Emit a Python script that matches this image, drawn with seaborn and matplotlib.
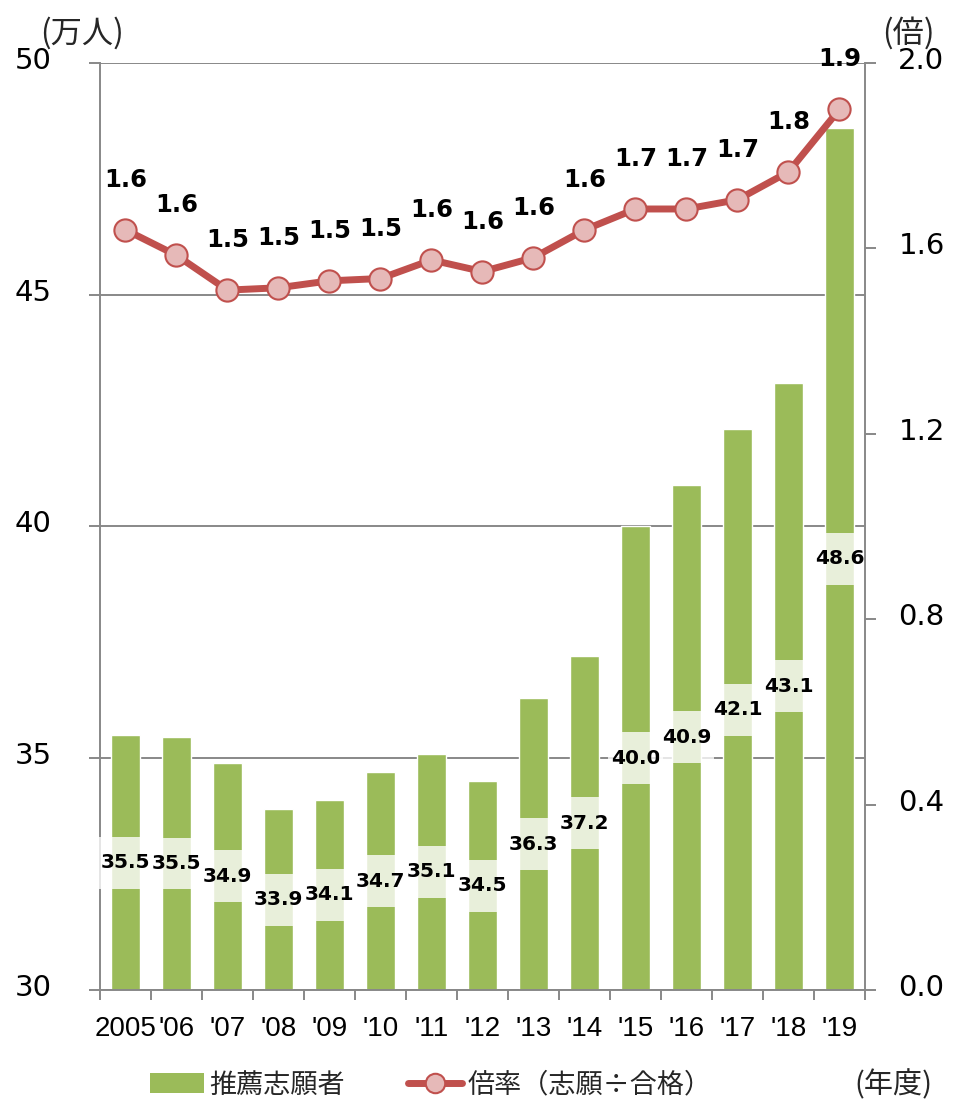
import numpy as np
import matplotlib
matplotlib.use("Agg")
import matplotlib.pyplot as plt
import seaborn as sns
from matplotlib.patches import Patch
from matplotlib.lines import Line2D
from matplotlib.transforms import ScaledTranslation

# ---- data ----
years = ["2005", "'06", "'07", "'08", "'09", "'10", "'11", "'12", "'13", "'14",
         "'15", "'16", "'17", "'18", "'19"]
applicants = [35.5, 35.46, 34.9, 33.9, 34.1, 34.7, 35.1, 34.5, 36.3, 37.2,
              40.0, 40.9, 42.1, 43.1, 48.6]
ratio = [1.64, 1.585, 1.51, 1.515, 1.53, 1.535, 1.575, 1.55, 1.58, 1.64,
         1.685, 1.685, 1.705, 1.765, 1.90]
left_ticks = [30, 35, 40, 45, 50]
right_ticks = [0.0, 0.4, 0.8, 1.2, 1.6, 2.0]
bar_label = "推薦志願者"
line_label = "倍率（志願÷合格）"

BAR = "#9BBB59"
RED = "#C0504D"
PINK = "#E6B9B8"
GRAY = "#888888"

sns.set_theme(style="white")
plt.rcParams["font.family"] = ["DejaVu Sans", "Noto Sans CJK JP"]
CJK = ["Noto Sans CJK JP", "DejaVu Sans"]

fig = plt.figure(figsize=(9.56, 11.01), dpi=100)
ax = fig.add_axes([0.1046, 0.1008, 0.9048 - 0.1046, 0.9428 - 0.1008])

sns.barplot(x=years, y=applicants, ax=ax, color=BAR, saturation=1,
            width=0.57, zorder=2)
ax.set_ylim(30, 50)
ax.set_xlim(-0.5, len(years) - 0.5)
ax.set_xlabel("")
ax.set_ylabel("")
ax.yaxis.grid(True, color=GRAY, lw=1.4)
ax.set_axisbelow(True)

# value labels with translucent boxes at bar centres
for i, v in enumerate(applicants):
    mid = (30 + v) / 2
    ax.bar(i, 1.12, bottom=mid - 0.56, width=1.07, color="white", alpha=0.78,
           zorder=3 + 2 * i, clip_on=False, linewidth=0)
    ax.text(i, mid, f"{v:.1f}", ha="center", va="center", fontsize=14.5,
            fontweight="bold", color="black", zorder=4 + 2 * i)

# axes styling
for s in ["top", "right"]:
    ax.spines[s].set_visible(False)
for s in ["left", "bottom"]:
    ax.spines[s].set_color(GRAY)
    ax.spines[s].set_linewidth(1.4)

ax.set_yticks(left_ticks)
ax.set_yticklabels([str(t) for t in left_ticks])
ax.tick_params(axis="y", which="major", left=True, length=8, width=1.4,
               color=GRAY, labelsize=21, pad=27, labelcolor="black")
ax.set_xticks(np.arange(-0.5, len(years), 1.0))
ax.set_xticklabels([])
ax.set_xticks(np.arange(len(years)), minor=True)
ax.set_xticklabels(years, minor=True, fontfamily="Liberation Sans")
ax.tick_params(axis="x", which="major", bottom=True, length=7, width=1.4,
               color=GRAY)
ax.tick_params(axis="x", which="minor", bottom=True, length=0, labelsize=20,
               pad=19, labelcolor="black")

# line on secondary axis
ax2 = ax.twinx()
sns.lineplot(x=np.arange(len(ratio)), y=ratio, ax=ax2, color=RED, lw=5,
             marker="o", markersize=16, markerfacecolor=PINK,
             markeredgecolor=RED, markeredgewidth=1.5, zorder=5)
ax2.set_ylim(0, 2.0)
ax2.set_ylabel("")
ax2.set_yticks(right_ticks)
ax2.set_yticklabels([f"{t:.1f}" for t in right_ticks])
ax2.grid(False)
for s in ["top", "left", "bottom"]:
    ax2.spines[s].set_visible(False)
ax2.spines["right"].set_color(GRAY)
ax2.spines["right"].set_linewidth(1.4)
ax2.tick_params(axis="y", right=True, length=8, width=1.4, color=GRAY,
                labelsize=21, pad=16, labelcolor="black")

for i, r in enumerate(ratio):
    ax2.annotate(f"{r:.1f}", (i, r), xytext=(0, 36), textcoords="offset points",
                 ha="center", va="center", fontsize=17.5, fontweight="bold",
                 color="black", annotation_clip=False)

# lift y tick labels slightly
shift = ScaledTranslation(0, 0.05, fig.dpi_scale_trans)
for lab in ax.get_yticklabels() + ax2.get_yticklabels():
    lab.set_transform(lab.get_transform() + shift)

# unit labels
fig.text(0.086, 0.970, "(万人)", ha="center", va="center", fontsize=22.5,
         family=CJK)
fig.text(0.950, 0.970, "(倍)", ha="center", va="center", fontsize=22.5,
         family=CJK)
fig.text(0.935, 0.0145, "(年度)", ha="center", va="center", fontsize=21,
         family=CJK)

handles = [Patch(facecolor=BAR, edgecolor="none"),
           Line2D([], [], color=RED, lw=5, marker="o", markersize=14,
                  markerfacecolor=PINK, markeredgecolor=RED,
                  markeredgewidth=1.5)]
fig.legend(handles, [bar_label, line_label], ncol=2, frameon=False,
           loc="center left", bbox_to_anchor=(0.157, 0.0145),
           borderaxespad=0, borderpad=0, handlelength=2.0, handleheight=0.8,
           handletextpad=0.2, columnspacing=2.3,
           prop={"family": CJK, "size": 19.5})

fig.savefig("out.png", dpi=100)
